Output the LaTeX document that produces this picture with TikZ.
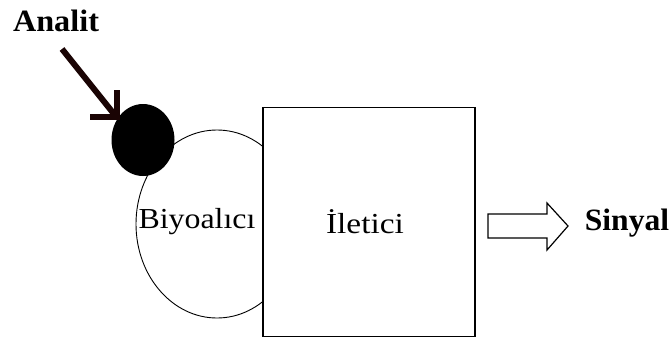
\documentclass[tikz,border=0pt]{standalone}
\usepackage{fontspec}
\setmainfont{Liberation Serif}
\usetikzlibrary{shapes.geometric}
\definecolor{arrowdark}{HTML}{1A0404}
\begin{document}
\begin{tikzpicture}[x=1pt,y=-1pt,
  lbl/.style={inner sep=0pt, font=\fontsize{29}{32}\selectfont},
  blbl/.style={inner sep=0pt, font=\fontsize{31}{34}\selectfont\bfseries},
  thin/.style={line width=0.9pt},
  fat/.style={line width=6pt, color=arrowdark}]
\useasboundingbox (0,0) rectangle (671,338);
% receptor ellipse
\node[ellipse, draw, thin, minimum width=162pt, minimum height=188pt, inner sep=0pt] (bio) at (217,224) {};
% transducer box
\node[draw, fill=white, line width=1.4pt, minimum width=212pt, minimum height=229pt, inner sep=0pt] (box) at (369,222) {};
% analyte
\node[ellipse, fill=black, minimum width=63pt, minimum height=72pt, inner sep=0pt] (an) at (143,140) {};
% labels
\node[blbl, xscale=1.04] (analit) at (56,21) {Analit};
\node[lbl, xscale=1.1] (biyo) at (197,222) {Biyoalıcı};
\node[lbl, xscale=1.15] (ilet) at (365,222) {İletici};
\node[blbl, xscale=1.02] (sin) at (627,223) {Sinyal};
% analyte arrow
\coordinate (a0) at (62,49);
\coordinate (a1) at (114,114);
\draw[fat] (a0) -- (a1);
\draw[fat] (90,117) -- (117,117) -- (117,90);
% output hollow arrow
\draw[line width=1.2pt, line join=miter] (488,214) -- (547,214) -- (547,203) -- (568,226) -- (547,250) -- (547,238) -- (488,238) -- cycle;
\end{tikzpicture}
\end{document}
